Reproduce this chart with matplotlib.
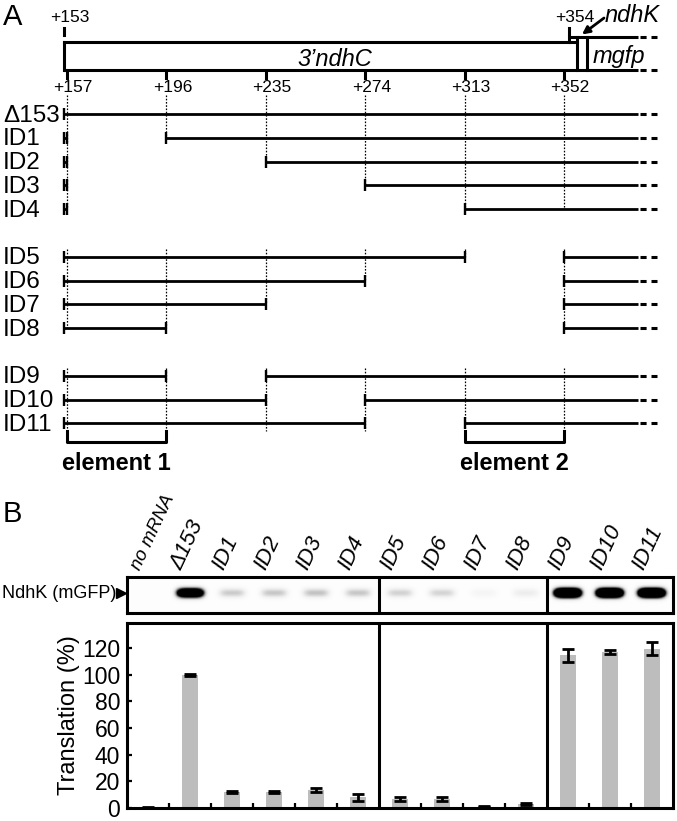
import matplotlib
matplotlib.use("Agg")
import matplotlib.pyplot as plt
import matplotlib.transforms as mtransforms
import numpy as np

plt.rcParams["font.family"] = ["Liberation Sans", "DejaVu Sans"]

# ---- panel A data (nucleotide positions) ----
sites = [157, 196, 235, 274, 313, 352]
construct_names = ["Δ153", "ID1", "ID2", "ID3", "ID4", "ID5", "ID6",
                   "ID7", "ID8", "ID9", "ID10", "ID11"]
deleted_from = [None, 157, 157, 157, 157, 313, 274, 235, 196, 196, 235, 274]
deleted_to = [None, 196, 235, 274, 313, 352, 352, 352, 352, 235, 274, 313]
row_group = [0, 0, 0, 0, 0, 1, 1, 1, 1, 2, 2, 2]
elements = [(157, 196, "element 1"), (313, 352, "element 2")]
seq_start = 153
ndhc_end = 357
ndhk_start = 354
ndhk_end = 361
open_end = 381

# ---- panel B data ----
lanes = ["no mRNA", "Δ153", "ID1", "ID2", "ID3", "ID4", "ID5", "ID6",
         "ID7", "ID8", "ID9", "ID10", "ID11"]
translation = [0.5, 100, 12, 12, 13.5, 8, 7, 7, 1, 3, 114.5, 117, 119.5]
translation_err = [0.3, 0.6, 1.0, 1.0, 1.5, 2.5, 1.5, 1.5, 0.5, 1.0, 5, 1.8, 5]
band_intensity = [0.0, 2.6, 0.3, 0.32, 0.34, 0.32, 0.27, 0.26, 0.07, 0.13, 3.5, 3.5, 3.5]
dividers = [5.5, 9.5]

W, H = 677, 821
fig = plt.figure(figsize=(W / 100, H / 100), dpi=100)


def rect(l, t, r, b):
    return [l / W, 1 - b / H, (r - l) / W, (b - t) / H]


K = 2.549  # px per nt in the schematic


def nt_to_px(nt):
    nt = np.asarray(nt, float)
    return np.where(nt < 153, 64 + (nt - 153) * K,
                    np.where(nt < 157, 64 + (nt - 153) * 0.75, 67 + (nt - 157) * K))


def px_to_nt(px):
    px = np.asarray(px, float)
    return np.where(px < 64, 153 + (px - 64) / K,
                    np.where(px < 67, 153 + (px - 64) / 0.75, 157 + (px - 67) / K))


# ================= panel A =================
axA = fig.add_axes(rect(0, 0, W, 480))
axA.set_axis_off()
axA.set_xscale("function", functions=(nt_to_px, px_to_nt))
axA.set_xlim(float(px_to_nt(0)), float(px_to_nt(W)))
axA.set_ylim(480, 0)

LW = 2.2
box_top, box_bot, ndhk_top = 42, 70, 37
dash_kw = dict(color="k", lw=LW, dashes=(2.0, 1.6), solid_capstyle="butt")

# gene box
axA.plot([seq_start, ndhc_end], [box_top, box_top], "k", lw=LW)
axA.plot([seq_start, open_end], [box_bot, box_bot], "k", lw=LW, solid_capstyle="butt")
axA.plot([seq_start, seq_start], [box_top, box_bot], "k", lw=LW)
axA.plot([ndhc_end, ndhc_end], [ndhk_top, box_bot], "k", lw=LW)
axA.plot([ndhk_start, open_end], [ndhk_top, ndhk_top], "k", lw=LW, solid_capstyle="butt")
axA.plot([ndhk_start, ndhk_start], [ndhk_top, box_top], "k", lw=LW)
axA.plot([ndhk_end, ndhk_end], [ndhk_top, box_bot], "k", lw=LW)
for yy in (ndhk_top, box_bot):
    axA.plot([open_end + 0.8, open_end + 7.5], [yy, yy], **dash_kw)

# position ticks
axA.plot([seq_start, seq_start], [28, 35], "k", lw=LW)
axA.plot([ndhk_start, ndhk_start], [28, 35], "k", lw=LW)
for s in sites:
    axA.plot([s, s], [72, 78], "k", lw=LW)

shift = mtransforms.offset_copy(axA.transData, fig, x=6, y=0, units="dots")
axA.text(seq_start, 18, "+153", transform=shift, ha="center", va="center", fontsize=12.5)
axA.text(ndhk_start, 17, "+354", transform=shift, ha="center", va="center", fontsize=12.5)
for s in sites:
    axA.text(s, 88, f"+{s}", transform=shift, ha="center", va="center", fontsize=12.5)

axA.text(float(px_to_nt(297)), 66.5, "3’ndhC", fontsize=17, fontstyle="italic",
         ha="left", va="baseline")
axA.text(float(px_to_nt(593)), 63.5, "mgfp", fontsize=17, fontstyle="italic",
         ha="left", va="baseline")
axA.text(float(px_to_nt(605)), 22, "ndhK", fontsize=17, fontstyle="italic",
         ha="left", va="baseline")
axA.annotate("", xy=(float(px_to_nt(582)), 34.5), xytext=(float(px_to_nt(604)), 18),
             arrowprops=dict(arrowstyle="-|>", color="k", lw=2, mutation_scale=11,
                             shrinkA=0, shrinkB=0))

# constructs
row_y = []
slot = 0
for i, g in enumerate(row_group):
    if i > 0 and g != row_group[i - 1]:
        slot += 1
    row_y.append(114 + 23.8 * slot)
    slot += 1

bracket_top, bracket_bot = 431, 442

for name, y, d0, d1 in zip(construct_names, row_y, deleted_from, deleted_to):
    if d0 is None:
        segs = [(seq_start, open_end)]
        caps = [seq_start]
    else:
        segs = [(seq_start, d0), (d1, open_end)]
        caps = [seq_start, d0, d1]
    for a, b in segs:
        axA.plot([a, b], [y, y], "k", lw=2.0, solid_capstyle="butt")
    axA.plot(caps, [y] * len(caps), ls="none", marker="|", ms=9, mew=1.7, color="k")
    axA.plot([open_end + 0.8, open_end + 7.5], [y, y], **dash_kw)
    fig.text(3 / W, 1 - (y + 7.5) / H, name, fontsize=17.5, ha="left", va="baseline")

# dotted guides
for g in sorted(set(row_group)):
    idx = [i for i, rg in enumerate(row_group) if rg == g]
    top = 95 if g == 0 else row_y[idx[0]] - 8
    for s in sites:
        if g == 2:
            bottom = bracket_top
        else:
            hits = [i for i in idx if s in (deleted_from[i], deleted_to[i])]
            bottom = row_y[hits[-1]] if hits else row_y[idx[-1]]
        axA.plot([s, s], [top, bottom], color="k", lw=0.9, ls=(0, (1.3, 1.3)))

for a, b, lab in elements:
    axA.plot([a, a, b, b], [bracket_top, bracket_bot, bracket_bot, bracket_top],
             "k", lw=LW)
    axA.text(float(px_to_nt((nt_to_px(a) + nt_to_px(b)) / 2)), 470, lab,
             fontsize=17, fontweight="bold", ha="center", va="baseline")

fig.text(3 / W, 1 - 25 / H, "A", fontsize=21, ha="left", va="baseline")
fig.text(3 / W, 1 - 522 / H, "B", fontsize=21, ha="left", va="baseline")

# ================= panel B =================
x = np.arange(len(lanes))

axG = fig.add_axes(rect(127, 577, 673, 613))
gx = np.linspace(-0.5, len(lanes) - 0.5, 700)
gy = np.linspace(0, 1, 60)
GX, GY = np.meshgrid(gx, gy)
img = np.full(GX.shape, 0.015)
for k, inten in enumerate(band_intensity):
    img += inten * np.exp(-((GX - k) / 0.31) ** 4) * np.exp(-((GY - 0.44) / 0.12) ** 2)
axG.imshow(img, cmap="Greys", vmin=0, vmax=1, extent=(-0.5, len(lanes) - 0.5, 1, 0),
           aspect="auto", interpolation="bilinear")
axG.set_xlim(-0.5, len(lanes) - 0.5)
axG.set_ylim(1, 0)
axG.set_xticks([])
axG.set_yticks([])
for sp in axG.spines.values():
    sp.set_linewidth(LW)
for d in dividers:
    axG.axvline(d, color="k", lw=LW)
axG.plot([-0.5], [0.44], marker=">", ms=7, color="k", clip_on=False,
         transform=mtransforms.offset_copy(axG.transData, fig, x=-6.5, units="dots"))
fig.text(116 / W, 1 - 593 / H, "NdhK (mGFP)", fontsize=13, ha="right", va="center")

axB = fig.add_axes(rect(127, 623, 673, 808))
axB.bar(x, translation, width=0.4, color="#bdbdbd", zorder=2)
axB.errorbar(x, translation, yerr=translation_err, fmt="none", ecolor="k",
             elinewidth=2, capsize=4.2, capthick=2, zorder=3)
axB.set_xlim(-0.5, len(lanes) - 0.5)
axB.set_ylim(0, 138.8)
for d in dividers:
    axB.axvline(d, color="k", lw=LW)
axB.set_yticks(range(0, 121, 20))
boundaries = [b + 0.5 for b in x[:-1] if b + 0.5 not in dividers]
axB.set_xticks(boundaries)
axB.set_xticklabels([])
axB.tick_params(axis="both", direction="in", length=3.6, width=1.6)
axB.tick_params(axis="y", labelsize=16.5, pad=5)
for sp in axB.spines.values():
    sp.set_linewidth(LW)
axB.set_ylabel("Translation (%)", fontsize=17, labelpad=1.5)

lab_tr = mtransforms.blended_transform_factory(axB.transData, fig.transFigure)
for i, lab in enumerate(lanes):
    axB.text(i - 0.2, 1 - 571 / H, lab, transform=lab_tr, rotation=65,
             rotation_mode="anchor", ha="left", va="baseline", fontstyle="italic",
             fontsize=13.5 if i == 0 else 16)

fig.savefig("out.png", dpi=100)
